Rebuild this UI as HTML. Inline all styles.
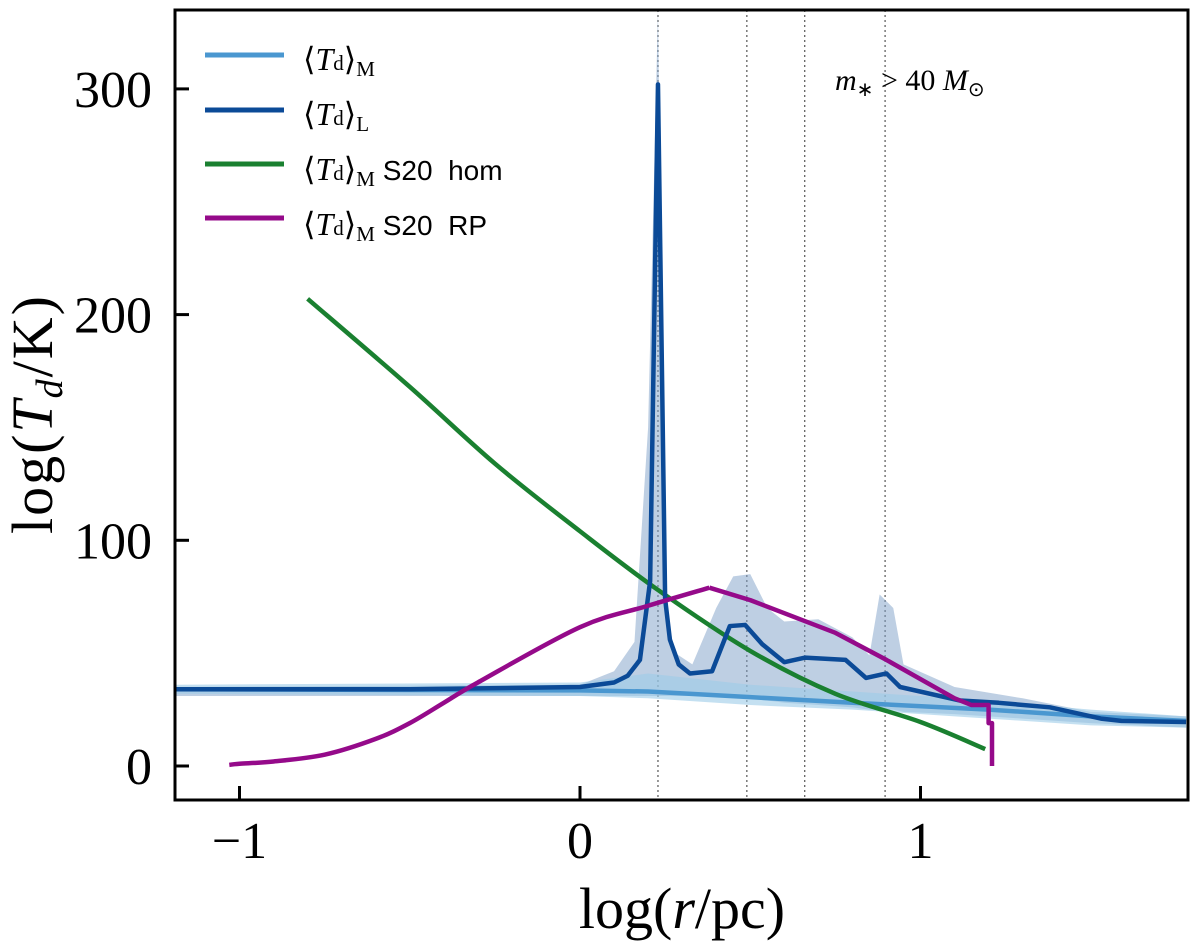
<!DOCTYPE html>
<html><head><meta charset="utf-8"><style>
body{margin:0;background:#fff;}
svg text{font-family:"Liberation Serif",serif;}
</style></head><body>
<svg id="chart" width="1200" height="942" viewBox="0 0 1200 942" xmlns="http://www.w3.org/2000/svg">
<g id="plot"></g>
<rect x="175" y="10" width="1013" height="790" fill="none" stroke="#000" stroke-width="3"/>
<g id="ticks"></g>
<text x="682" y="928" font-size="58" text-anchor="middle">log(<tspan font-style="italic">r</tspan>/pc)</text>
<text transform="translate(52,414) rotate(-90)" font-size="58" text-anchor="middle" letter-spacing="2">log(<tspan font-style="italic">T</tspan><tspan font-style="italic" font-size="38" dy="10">d</tspan><tspan dy="-10">/K)</tspan></text>
<text x="835" y="90" font-size="30"><tspan font-style="italic">m</tspan><tspan font-size="20" dy="6">∗</tspan><tspan dy="-6"> &gt; 40 </tspan><tspan font-style="italic">M</tspan><tspan font-size="20" dy="6">⊙</tspan></text>
<g font-size="32">
<line x1="205" y1="55" x2="284" y2="55" stroke="#4a97d0" stroke-width="5"/>
<text x="303" y="70">⟨<tspan font-style="italic">T</tspan><tspan font-size="21">d</tspan>⟩<tspan font-size="21" dy="6">M</tspan></text>
<line x1="205" y1="110" x2="284" y2="110" stroke="#0b4a97" stroke-width="5"/>
<text x="303" y="125">⟨<tspan font-style="italic">T</tspan><tspan font-size="21">d</tspan>⟩<tspan font-size="21" dy="6">L</tspan></text>
<line x1="205" y1="164" x2="284" y2="164" stroke="#1a8030" stroke-width="5"/>
<text x="303" y="180">⟨<tspan font-style="italic">T</tspan><tspan font-size="21">d</tspan>⟩<tspan font-size="21" dy="6">M</tspan><tspan dy="-6" font-family="Liberation Sans" font-size="28" xml:space="preserve"> S20  hom</tspan></text>
<line x1="205" y1="218" x2="284" y2="218" stroke="#950a8a" stroke-width="5"/>
<text x="303" y="235">⟨<tspan font-style="italic">T</tspan><tspan font-size="21">d</tspan>⟩<tspan font-size="21" dy="6">M</tspan><tspan dy="-6" font-family="Liberation Sans" font-size="28" xml:space="preserve"> S20  RP</tspan></text>
</g>
</svg>
<script>
const xTicks=[-1,0,1];
const yTicks=[0,100,200,300];
const vLines=[0.229,0.49,0.66,0.896];
const lX=[-1.2,-0.5,0,0.1,0.14,0.176,0.206,0.229,0.25,0.264,0.29,0.323,0.388,0.44,0.485,0.535,0.6,0.66,0.78,0.84,0.9,0.94,1.116,1.23,1.38,1.53,1.59,1.78];
const lY=[34,34,35,37,40,47,82,302,74,56,45,41,42,62,62.5,54,46,48,47,39,41,35,29,28,26,21,20,19.5];
const lBandX=[-1.2,0,0.1,0.16,0.2,0.229,0.25,0.28,0.33,0.4,0.45,0.5,0.55,0.6,0.7,0.8,0.85,0.88,0.92,0.95,1.1,1.3,1.5,1.78];
const lBandHi=[35,36,42,55,150,335,70,50,45,70,84,85,70,64,65,57,49,76,70,45,35,30,24,22];
const lBandLo=[31,31,31,31,31,31,31,31,31,31,30,30,29,28,27,26,25,25,25,24,23,21,19,17];
const mX=[-1.2,0,0.2,0.5,0.8,1.2,1.5,1.78];
const mY=[34,33.5,33,30.5,28,25,22,20];
const mHi=[36,37,41,36,33,29,25,22];
const mLo=[32,31,30,27,25,21,18,17];
const gX=[-0.8,-0.5,-0.25,0,0.229,0.5,0.75,1,1.19];
const gY=[207,168,134,104,78,51,32,19.5,7.5];
const pX=[-1.03,-1,-0.9,-0.75,-0.6,-0.5,-0.4,-0.3,0,0.2,0.38];
const pY=[0.5,1,2,5,12,19,28,37,61.5,71,79];
const p2X=[0.38,0.5,0.75,0.9,1.1,1.15,1.2,1.2,1.21,1.21];
const p2Y=[79,73.5,59,47,30,27,27,19,19,0];
const X=v=>580+340.5*v, Y=v=>766-2.257*v;
const NS="http://www.w3.org/2000/svg";
const plot=document.getElementById('plot'), tk=document.getElementById('ticks');
function mk(tag,attrs,parent){const e=document.createElementNS(NS,tag);for(const k in attrs)e.setAttribute(k,attrs[k]);parent.appendChild(e);return e;}
const clip=mk('clipPath',{id:'c'},plot);mk('rect',{x:175,y:10,width:1013,height:790},clip);
const g=mk('g',{'clip-path':'url(#c)'},plot);
function band(xs,hi,lo,fill,op,name){let d='M'+xs.map((x,i)=>X(x)+','+Y(hi[i])).join('L');
for(let i=xs.length-1;i>=0;i--)d+='L'+X(xs[i])+','+Y(lo[i]);
const e=mk('path',{d:d+'Z',fill:fill,'fill-opacity':op},g);

}
function smoothD(xs,ys){const p=xs.map((x,i)=>[X(x),Y(ys[i])]);let d='M'+p[0].join(',');
for(let i=0;i<p.length-1;i++){const a=p[i-1]||p[i],b=p[i],c=p[i+1],e=p[i+2]||c;
d+='C'+(b[0]+(c[0]-a[0])/6)+','+(b[1]+(c[1]-a[1])/6)+' '+(c[0]-(e[0]-b[0])/6)+','+(c[1]-(e[1]-b[1])/6)+' '+c[0]+','+c[1];}return d;}
function line(xs,ys,col,w,name,smooth){const d=smooth?smoothD(xs,ys):'M'+xs.map((x,i)=>X(x)+','+Y(ys[i])).join('L');
const e=mk('path',{d:d,fill:'none',stroke:col,'stroke-width':w,'stroke-linejoin':'round'},g);

}
vLines.forEach(v=>{const e=mk('line',{x1:X(v),x2:X(v),y1:10,y2:800,stroke:'#555','stroke-width':1.2,'stroke-dasharray':'2,3'},g);

});
band(lBandX,lBandHi,lBandLo,'#7d9fc8',0.5,'tl-band');
band(mX,mHi,mLo,'#9ccbe8',0.6,'tm-band');
line(mX,mY,'#4a97d0',4.5,'tm-line');
line(gX,gY,'#1a8030',4.5,'hom-line',true);
line(lX,lY,'#0b4a97',4.5,'tl-line');
line(pX,pY,'#950a8a',4.5,'rp-line-rise',true);
line(p2X,p2Y,'#950a8a',4.5,'rp-line-fall');
xTicks.forEach(v=>{mk('line',{x1:X(v),x2:X(v),y1:800,y2:786,stroke:'#000','stroke-width':3},tk);
const t=mk('text',{x:X(v),y:858,'font-size':52,'text-anchor':'middle'},tk);t.textContent=v<0?'−'+(-v):v;

});
yTicks.forEach(v=>{mk('line',{x1:175,x2:189,y1:Y(v),y2:Y(v),stroke:'#000','stroke-width':3},tk);
const t=mk('text',{x:152,y:Y(v)+18,'font-size':52,'text-anchor':'end'},tk);t.textContent=v;

});
</script>
</body></html>
